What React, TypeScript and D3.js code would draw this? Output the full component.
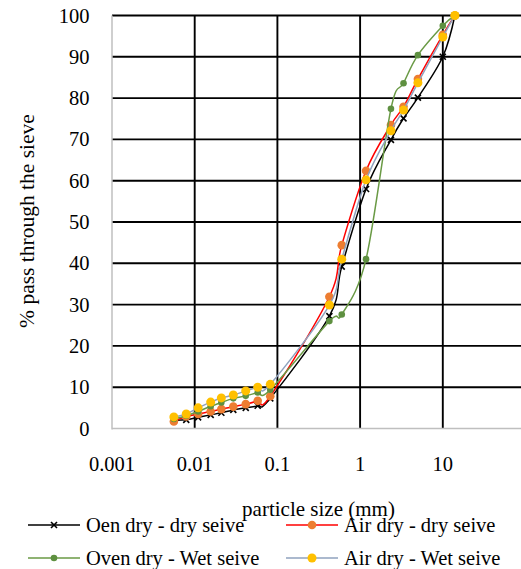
import React from "react";
import * as d3 from "d3";

const sizes = [0.0056, 0.0079, 0.011, 0.0156, 0.021, 0.0293, 0.0414, 0.0578, 0.082, 0.425, 0.6, 1.18, 2.36, 3.35, 5, 10, 14];
const ovenDrySieve = [2.0, 2.1, 2.7, 3.3, 3.8, 4.5, 5.0, 5.5, 7.3, 27.2, 39.2, 58.0, 69.9, 75.1, 80.1, 90.0, 100];
const airDrySieve = [1.7, 2.9, 3.5, 4.1, 4.7, 5.3, 5.9, 6.7, 7.8, 31.9, 44.4, 62.4, 73.5, 77.9, 84.6, 95.3, 100];
const ovenWetSieve = [2.3, 3.1, 4.1, 5.4, 6.3, 7.3, 7.9, 8.7, 9.4, 26.0, 27.6, 41.0, 77.4, 83.6, 90.4, 97.5, 100];
const airWetSieve = [2.8, 3.5, 5.0, 6.4, 7.4, 8.1, 9.1, 10.0, 10.7, 29.9, 41.0, 60.2, 72.1, 77.1, 83.7, 94.8, 100];

const xTicks = [0.001, 0.01, 0.1, 1, 10, 100];
const xTickLabels = ["0.001", "0.01", "0.1", "1", "10", ""];
const yTicks = [0, 10, 20, 30, 40, 50, 60, 70, 80, 90, 100];

const seriesNames = ["Oen dry - dry seive", "Air dry - dry seive", "Oven dry - Wet seive", "Air dry - Wet seive"];

type Series = { name: string; values: number[]; line: string; marker: string; kind: "x" | "dot"; r: number };

const series: Series[] = [
  { name: seriesNames[0], values: ovenDrySieve, line: "#000000", marker: "#000000", kind: "x", r: 3 },
  { name: seriesNames[1], values: airDrySieve, line: "#FF0000", marker: "#ED7D31", kind: "dot", r: 4.3 },
  { name: seriesNames[2], values: ovenWetSieve, line: "#6A9A45", marker: "#5E9040", kind: "dot", r: 3.3 },
  { name: seriesNames[3], values: airWetSieve, line: "#8FA2BE", marker: "#FFC000", kind: "dot", r: 4.5 },
];

const TS = { fontFamily: '"Liberation Serif"' };

function Marker({ s, cx, cy }: { s: Series; cx: number; cy: number }) {
  if (s.kind === "x") {
    const d = s.r;
    return (
      <g stroke={s.marker} strokeWidth={1.6}>
        <line x1={cx - d} y1={cy - d} x2={cx + d} y2={cy + d} />
        <line x1={cx - d} y1={cy + d} x2={cx + d} y2={cy - d} />
      </g>
    );
  }
  return <circle cx={cx} cy={cy} r={s.r} fill={s.marker} />;
}

export default function App() {
  const W = 521, H = 569;
  const x = d3.scaleLog().domain([0.001, 100]).range([112, 525.5]);
  const y = d3.scaleLinear().domain([0, 100]).range([428.5, 15.5]);
  const line = d3
    .line<[number, number]>()
    .x((d) => x(d[0]))
    .y((d) => y(d[1]))
    .curve(d3.curveCardinal.tension(0));

  const legendItems = [
    { s: series[0], lx: 28, ly: 525 },
    { s: series[1], lx: 286, ly: 525 },
    { s: series[2], lx: 28, ly: 558 },
    { s: series[3], lx: 286, ly: 558 },
  ];

  return (
    <svg width={W} height={H} style={{ position: "absolute", left: 0, top: 0 }}>
      <rect width={W} height={H} fill="#fff" />
      {yTicks.filter((t) => t > 0).map((t) => (
        <line key={"h" + t} x1={x(0.001)} x2={x(100)} y1={y(t)} y2={y(t)} stroke="#000" strokeWidth={1.9} />
      ))}
      {xTicks.filter((t) => t > 0.001).map((t) => (
        <line key={"v" + t} x1={x(t)} x2={x(t)} y1={y(100)} y2={y(0)} stroke="#000" strokeWidth={1.9} />
      ))}
      <line x1={x(0.001)} x2={x(0.001)} y1={y(100)} y2={y(0) + 1} stroke="#BFBFBF" strokeWidth={1.5} />
      <line x1={x(0.001)} x2={x(100)} y1={y(0)} y2={y(0)} stroke="#BFBFBF" strokeWidth={1.5} />

      {yTicks.map((t) => (
        <text key={"yl" + t} x={89.5} y={y(t) + 7} textAnchor="end" fontSize={20.5} fill="#000" style={TS}>
          {t}
        </text>
      ))}
      {xTicks.map((t, i) => (
        <text key={"xl" + t} x={x(t)} y={470.5} textAnchor="middle" fontSize={20.5} fill="#000" style={TS}>
          {xTickLabels[i]}
        </text>
      ))}

      {series.map((s) => {
        const pts = sizes.map((v, i) => [v, s.values[i]] as [number, number]);
        return (
          <g key={s.name}>
            <path d={line(pts) || ""} fill="none" stroke={s.line} strokeWidth={1.5} />
            {pts.map((p, i) => (
              <Marker key={i} s={s} cx={x(p[0])} cy={y(p[1])} />
            ))}
          </g>
        );
      })}

      <text x={318.5} y={515.5} textAnchor="middle" fontSize={21} fill="#000" style={TS}>
        particle size (mm)
      </text>
      <text transform={`translate(34,221) rotate(-90)`} textAnchor="middle" fontSize={21.5} fill="#000" style={TS}>
        % pass through the sieve
      </text>

      {legendItems.map(({ s, lx, ly }) => (
        <g key={"lg" + s.name}>
          <line x1={lx} x2={lx + 52} y1={ly} y2={ly} stroke={s.line} strokeWidth={1.5} />
          <Marker s={s} cx={lx + 26} cy={ly} />
          <text x={lx + 58} y={ly + 7} fontSize={20.5} fill="#000" style={TS}>
            {s.name}
          </text>
        </g>
      ))}
    </svg>
  );
}
